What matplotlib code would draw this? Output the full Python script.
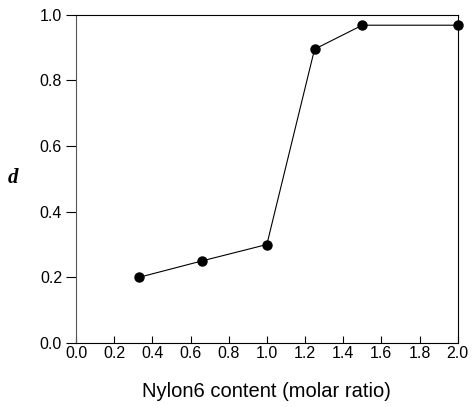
import matplotlib
matplotlib.use('Agg')
import matplotlib.pyplot as plt

plt.rcParams['font.family'] = 'Liberation Sans'

# dados
nylon_content = [0.33, 0.66, 1.0, 1.25, 1.5, 2.0]
d_values = [0.20, 0.25, 0.30, 0.895, 0.968, 0.968]

fig = plt.figure(figsize=(4.73, 4.07), dpi=100)
ax = fig.add_axes([76 / 473, 1 - 343 / 407, (457.7 - 76) / 473, (343 - 14.7) / 407])

ax.plot(nylon_content, d_values, color='black', lw=0.8, marker='o',
        markersize=6.5, clip_on=False, zorder=3)

ax.set_xlim(0, 2.0)
ax.set_ylim(0, 1.0)
ax.set_xticks([i * 0.2 for i in range(11)])
ax.set_yticks([i * 0.2 for i in range(6)])
ax.set_xticklabels([f"{i * 0.2:.1f}" for i in range(11)])
ax.set_yticklabels([f"{i * 0.2:.1f}" for i in range(6)])

ax.tick_params(axis='x', direction='in', length=5, width=0.8, labelsize=11.5, pad=2)
ax.tick_params(axis='y', direction='out', length=7, width=0.8, labelsize=11.5, pad=3)

for s in ax.spines.values():
    s.set_linewidth(0.8)
ax.spines['left'].set_color('#555555')

ax.set_xlabel('Nylon6 content (molar ratio)', fontsize=14.5, labelpad=15)
# rotulo do eixo y posicionado a mao (fora da area dos ticks)
fig.text(13 / 473, 1 - 178 / 407, 'd', fontsize=15, family='Liberation Serif',
         style='italic', weight='bold', ha='center', va='center')

fig.savefig('out.png', dpi=100)
